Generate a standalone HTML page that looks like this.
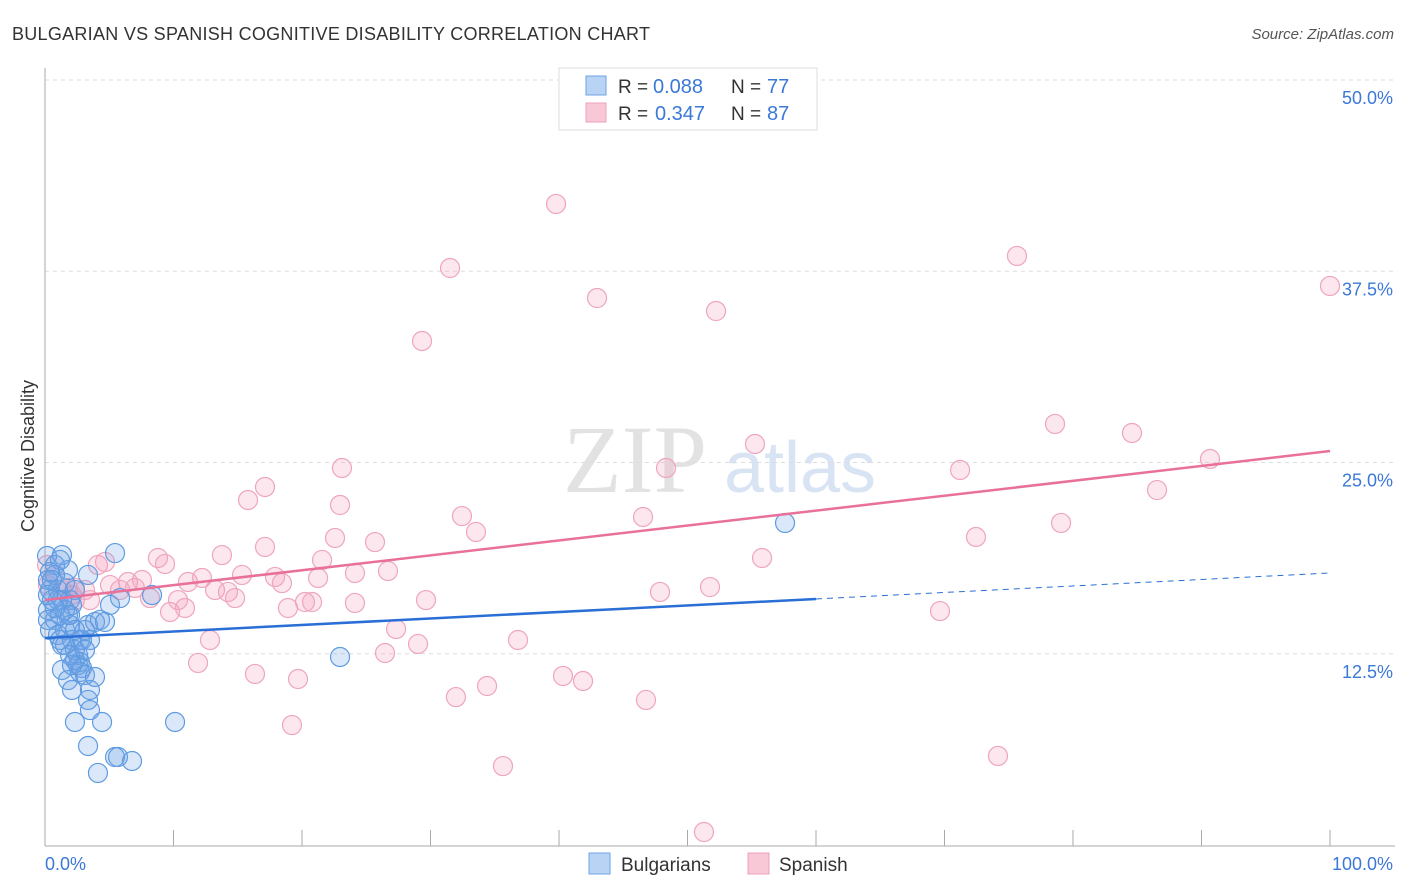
<!DOCTYPE html>
<html><head><meta charset="utf-8"><style>
body{margin:0;background:#fff;font-family:"Liberation Sans",sans-serif}
svg{display:block}
</style></head><body>
<svg id="c" width="1406" height="892">
<text x="12" y="40" font-size="18" fill="#333" textLength="638">BULGARIAN VS SPANISH COGNITIVE DISABILITY CORRELATION CHART</text>
<text x="1394" y="39" font-size="15" fill="#555" text-anchor="end" font-style="italic">Source: ZipAtlas.com</text>
<text x="635" y="492" font-size="96" fill="#e2e2e2" font-family="Liberation Serif" text-anchor="middle">ZIP</text>
<text x="800" y="492" font-size="72" fill="#d8e4f4" text-anchor="middle">atlas</text>
<text transform="translate(34,456) rotate(-90)" font-size="18" fill="#333" text-anchor="middle">Cognitive Disability</text>
<g id="grid"></g><g id="pts"></g><g id="lines"></g>
<g>
<rect x="559" y="68" width="258" height="62" fill="#fff" stroke="#ddd"/>
<rect x="586" y="76" width="20" height="19" fill="#b8d3f4" stroke="#6fa3e6"/>
<rect x="586" y="103" width="20" height="19" fill="#f9c8d6" stroke="#eda0b8"/>
<text x="618" y="93" font-size="19" fill="#333">R =</text>
<text x="653" y="93" font-size="20" fill="#3b78d8">0.088</text>
<text x="731" y="93" font-size="19" fill="#333">N =</text>
<text x="767" y="93" font-size="20" fill="#3b78d8">77</text>
<text x="618" y="120" font-size="19" fill="#333">R =</text>
<text x="655" y="120" font-size="20" fill="#3b78d8">0.347</text>
<text x="731" y="120" font-size="19" fill="#333">N =</text>
<text x="767" y="120" font-size="20" fill="#3b78d8">87</text>
</g>
<g>
<rect x="589" y="853" width="21" height="21" fill="#b8d3f4" stroke="#6fa3e6"/>
<text x="621" y="871" font-size="19" fill="#333">Bulgarians</text>
<rect x="748" y="853" width="21" height="21" fill="#f9c8d6" stroke="#eda0b8"/>
<text x="779" y="871" font-size="19" fill="#333">Spanish</text>
</g>
</svg>
<script>
const yTicks=[12.5,25,37.5,50];
const yTickLabels=["12.5%","25.0%","37.5%","50.0%"];
const xTickLabels=["0.0%","100.0%"];
const bulgarianPx=[[47,556],[48,580],[50,590],[52,600],[48,610],[55,565],[58,590],[62,555],[65,583],[68,570],[70,600],[72,605],[75,590],[50,630],[55,620],[58,635],[60,640],[62,645],[65,630],[68,615],[70,625],[72,640],[75,650],[78,655],[80,662],[82,640],[85,630],[88,625],[90,640],[95,622],[100,620],[105,622],[110,605],[115,553],[88,575],[120,598],[152,595],[62,670],[68,680],[72,690],[75,660],[78,665],[80,672],[82,668],[85,675],[90,690],[95,677],[88,700],[90,710],[75,722],[102,722],[175,722],[88,746],[115,757],[118,757],[132,761],[98,773],[340,657],[785,523],[60,560],[55,575],[50,572],[62,600],[65,610],[70,615],[52,580],[58,600],[48,620],[80,640],[65,645],[70,655],[75,630],[72,665],[85,650],[60,615],[55,608],[48,595]];
const spanishPx=[[47,565],[55,575],[62,590],[68,588],[72,595],[75,600],[85,590],[90,600],[98,565],[105,562],[110,585],[120,590],[128,582],[135,588],[142,580],[150,598],[158,558],[165,564],[170,612],[178,600],[185,608],[188,582],[198,663],[202,578],[210,640],[215,590],[222,555],[228,592],[235,598],[242,575],[248,500],[255,674],[265,487],[265,547],[275,577],[282,583],[288,608],[298,679],[305,602],[312,602],[292,725],[318,578],[322,560],[335,538],[340,505],[342,468],[355,603],[355,573],[375,542],[385,653],[388,571],[396,629],[418,644],[422,341],[426,600],[450,268],[456,697],[462,516],[476,532],[487,686],[503,766],[518,640],[556,204],[563,676],[583,681],[597,298],[643,517],[646,700],[660,592],[666,468],[704,832],[710,587],[716,311],[755,444],[762,558],[940,611],[960,470],[976,537],[998,756],[1017,256],[1055,424],[1061,523],[1132,433],[1157,490],[1210,459],[1330,286],[48,585],[75,588]];
const bulgarianX=bulgarianPx.map(p=>+((p[0]-45)/12.85).toFixed(2));
const bulgarianY=bulgarianPx.map(p=>+((845-p[1])/15.3).toFixed(2));
const spanishX=spanishPx.map(p=>+((p[0]-45)/12.85).toFixed(2));
const spanishY=spanishPx.map(p=>+((845-p[1])/15.3).toFixed(2));
const blueTrend=[13.53,17.78];
const pinkTrend=[16.01,25.75];

const X=v=>45+v*12.85, Y=v=>845-v*15.3;
const NS="http://www.w3.org/2000/svg";
function mk(t,a,p){const e=document.createElementNS(NS,t);for(const k in a)e.setAttribute(k,a[k]);p.appendChild(e);return e;}
const grid=document.getElementById('grid');
yTicks.forEach((t,i)=>{
 const l=mk('line',{x1:45,x2:1395,y1:Y(t),y2:Y(t),stroke:'#ddd','stroke-dasharray':'4,4'},grid);
 
 
 const tx=mk('text',{x:1393,y:Y(t)+24,'font-size':18,fill:'#3b78d8','text-anchor':'end'},grid);
 tx.textContent=yTickLabels[i];
 
 
});
const ax=mk('line',{x1:45,x2:1395,y1:846,y2:846,stroke:'#aaa'},grid);


const ay=mk('line',{x1:45,x2:45,y1:68,y2:846,stroke:'#aaa'},grid);


for(let i=0;i<=10;i++){const t=mk('line',{x1:X(i*10),x2:X(i*10),y1:830,y2:846,stroke:'#aaa'},grid);
 
 }
[[0,'start',45],[1,'end',1393]].forEach(([i,a,x])=>{const t=mk('text',{x:x,y:870,'font-size':18,fill:'#3b78d8','text-anchor':a},grid);t.textContent=xTickLabels[i];
 
 });
const pts=document.getElementById('pts');
spanishX.forEach((x,i)=>{const c=mk('circle',{cx:X(x),cy:Y(spanishY[i]),r:9.5,fill:'rgba(244,160,188,0.25)',stroke:'#eea5bd','stroke-width':1.2},pts);
 
 });
bulgarianX.forEach((x,i)=>{const c=mk('circle',{cx:X(x),cy:Y(bulgarianY[i]),r:9.5,fill:'rgba(110,165,230,0.25)',stroke:'#5f9be0','stroke-width':1.2},pts);
 
 });
const ln=document.getElementById('lines');
const bAt=x=>blueTrend[0]+(blueTrend[1]-blueTrend[0])*x/100;
const b1=mk('line',{x1:X(0),y1:Y(bAt(0)),x2:X(60),y2:Y(bAt(60)),stroke:'#2a6fd6','stroke-width':2.5},ln);


const b2=mk('line',{x1:X(60),y1:Y(bAt(60)),x2:X(100),y2:Y(bAt(100)),stroke:'#2a6fd6','stroke-width':1,'stroke-dasharray':'6,5'},ln);


const p1=mk('line',{x1:X(0),y1:Y(pinkTrend[0]),x2:X(100),y2:Y(pinkTrend[1]),stroke:'#e8709a','stroke-width':2.5},ln);


</script>
</body></html>
